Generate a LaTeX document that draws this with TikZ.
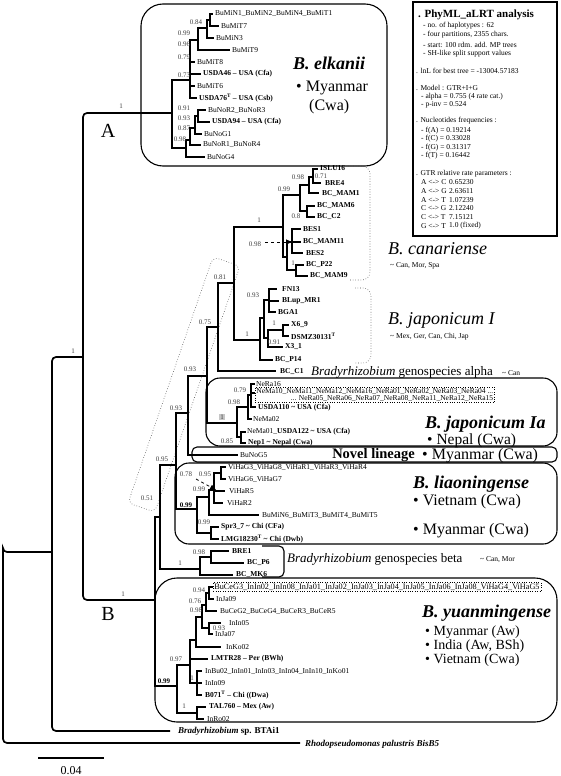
\documentclass[tikz,border=0pt]{standalone}
\usepackage{fontspec}
\setmainfont{Liberation Serif}
\usetikzlibrary{arrows.meta}
\newcommand\myfs[1]{\fontsize{#1}{#1}\selectfont}
\newcommand\tld{\textasciitilde}
\begin{document}
\begin{tikzpicture}[x=1pt,y=-1pt,
  br/.style={line width=1.9pt,line cap=rect},
  obr/.style={line width=1.7pt,rounded corners=4pt},
  tiplab/.style={anchor=west,inner sep=0pt,font=\myfs{7.5}},
  tipb/.style={anchor=west,inner sep=0pt,font=\myfs{7.5}\bfseries},
  sup/.style={inner sep=0pt,font=\myfs{7},text=black!75},
  cladebox/.style={draw,line width=1.1pt},
  dotbr/.style={draw=black!70,dotted,line width=0.6pt,rounded corners=8pt},
  big/.style={anchor=west,inner sep=0pt,font=\myfs{18}\bfseries\itshape},
  bigi/.style={anchor=west,inner sep=0pt,font=\myfs{18}\itshape},
  loc/.style={anchor=west,inner sep=0pt,font=\myfs{16}},
  leg/.style={anchor=west,inner sep=0pt,font=\myfs{7.5}},
  small/.style={anchor=west,inner sep=0pt,font=\myfs{7.5}}]
\useasboundingbox (0,0) rectangle (560,776);

% ---------- boxes ----------
\draw[cladebox,rounded corners=22pt] (141,4) rectangle (387,166);
\draw[line width=1.1pt] (413,2) rectangle (557,236);
\draw[cladebox,rounded corners=14pt] (206,378) rectangle (557,446);
\draw[cladebox,rounded corners=5pt] (192,447) rectangle (557,462);
\draw[cladebox,rounded corners=14pt] (175,463) rectangle (557,544);
\draw[cladebox,rounded corners=5pt] (262,546) -- (284,546) -- (284,577) -- (262,577);
\draw[cladebox,rounded corners=22pt] (155,578) rectangle (557,722);
\draw[dotbr] (348,166) -- (370,166) -- (370,280) -- (350,280);
\draw[dotbr] (355,288) -- (371,288) -- (371,363) -- (355,363);
\draw[dotbr,rounded corners=6pt] (213,257) -- (240,266) -- (155,512) -- (128,503) -- cycle;

% ---------- coordinates ----------
\coordinate (root) at (3,552);
\coordinate (n52) at (52,552);
\coordinate (n83) at (83,357);
\coordinate (tRho) at (300,743);
\coordinate (tBTA) at (170,731);
\coordinate (nA) at (172,113);
\coordinate (nB) at (155,600);
% elkanii
\coordinate (e2) at (190,80);
\coordinate (e3) at (198,40);
\coordinate (e4) at (207,28);
\coordinate (e5) at (210,20);
\coordinate (tMiN1) at (212,14);
\coordinate (tMiT7) at (218,26);
\coordinate (tMiN3) at (213,38);
\coordinate (tMiT9) at (229,50);
\coordinate (tMiT8) at (194,62);
\coordinate (tUS46) at (200,74);
\coordinate (tMiT6) at (194,86);
\coordinate (tUS76) at (196,98);
\coordinate (p1) at (186,148);
\coordinate (p2) at (190,140);
\coordinate (p3) at (195,128);
\coordinate (p4) at (198,116);
\coordinate (tNoR2) at (205,110);
\coordinate (tUS94) at (209,122);
\coordinate (tNoG1) at (201,134);
\coordinate (tNoR1) at (200,145);
\coordinate (tNoG4) at (204,157);
% big clade
\coordinate (k5) at (160,517);
\coordinate (k4) at (176,465);
\coordinate (k3) at (188,413);
\coordinate (k2) at (207,376);
\coordinate (k1) at (218,327);
\coordinate (j0) at (234,283);
\coordinate (tC1) at (275,371);
% canariense
\coordinate (c0) at (283,227);
\coordinate (q2) at (300,195);
\coordinate (q1) at (309,185);
\coordinate (q0) at (313,177);
\coordinate (q3) at (307,211);
\coordinate (tISLU) at (317,169);
\coordinate (tBRE4) at (320,183);
\coordinate (tMAM1) at (318,193);
\coordinate (tMAM6) at (314,206);
\coordinate (tC2) at (314,217);
\coordinate (r0) at (287,257);
\coordinate (r1) at (292,242);
\coordinate (r2) at (296,270);
\coordinate (tBES1) at (300,229);
\coordinate (tMAM11) at (300,242);
\coordinate (tBES2) at (302,253);
\coordinate (tP22) at (303,265);
\coordinate (tMAM9) at (307,276);
% japonicum I
\coordinate (j1) at (260,340);
\coordinate (j2) at (264,318);
\coordinate (j3) at (269,300);
\coordinate (j4) at (268,338);
\coordinate (j5) at (283,330);
\coordinate (tFN13) at (276,289);
\coordinate (tBLup) at (278,301);
\coordinate (tBGA1) at (275,312);
\coordinate (tX69) at (288,325);
\coordinate (tDSMZ) at (288,336);
\coordinate (tX31) at (282,347);
\coordinate (tP14) at (272,360);
% japonicum Ia
\coordinate (ia0) at (237,423);
\coordinate (ia1) at (248,407);
\coordinate (ia2) at (251,395);
\coordinate (ia3) at (241,437);
\coordinate (tNeRa16) at (254,384);
\coordinate (tNeBox) at (254,393);
\coordinate (tUS110) at (255,407);
\coordinate (tNeMa02) at (251,419);
\coordinate (tNeMa01) at (245,432);
\coordinate (tNep1) at (245,443);
\coordinate (tNoG5) at (237,455);
% liaoningense
\coordinate (l0) at (197,509);
\coordinate (l1) at (209,497);
\coordinate (l2) at (214,490);
\coordinate (l3) at (221,473);
\coordinate (l5) at (211,533);
\coordinate (tViG3) at (225,467);
\coordinate (tViG6) at (225,479);
\coordinate (tViR5) at (224,491);
\coordinate (tViR2) at (222,503);
\coordinate (tMiN6) at (258,515);
\coordinate (tSpr) at (218,527);
\coordinate (tLMG) at (218,539);
% beta
\coordinate (be0) at (200,569);
\coordinate (be1) at (211,557);
\coordinate (tBRE1) at (228,551);
\coordinate (tP6) at (243,563);
\coordinate (tMK6) at (232,575);
% yuanmingense
\coordinate (y0) at (177,686);
\coordinate (y1) at (190,665);
\coordinate (y3) at (196,640);
\coordinate (y4) at (202,617);
\coordinate (y5) at (206,605);
\coordinate (y5a) at (209,593);
\coordinate (y4b) at (209,628);
\coordinate (y6) at (197,683);
\coordinate (y7) at (197,713);
\coordinate (tBuCeG3) at (212,587);
\coordinate (tInJa09) at (213,599);
\coordinate (tBuCeG2) at (216,611);
\coordinate (tInIn05) at (220,623);
\coordinate (tInJa07) at (212,634);
\coordinate (tInKo02) at (220,647);
\coordinate (tLMTR) at (207,659);
\coordinate (tInBu02) at (201,671);
\coordinate (tInIn09) at (201,683);
\coordinate (tB071) at (201,695);
\coordinate (tTAL) at (205,707);
\coordinate (tInRo02) at (203,719);

% ---------- branches ----------
\foreach \a/\b in {root/n52,root/tRho,n52/n83,n52/tBTA,n83/nA,n83/nB}
  \draw[obr] (\a) |- (\b);
\foreach \a/\b in {nA/e2,nA/p1,e2/e3,e2/tMiT8,e2/tUS46,e2/tMiT6,e2/tUS76,
  e3/e4,e3/tMiT9,e4/e5,e4/tMiN3,e5/tMiN1,e5/tMiT7,
  p1/p2,p1/tNoG4,p2/p3,p2/tNoR1,p3/p4,p3/tNoG1,p4/tNoR2,p4/tUS94,
  nB/k5,nB/y0,k5/k4,k5/be0,k4/k3,k4/l0,k3/k2,k3/tNoG5,k2/k1,k2/ia0,
  k1/j0,k1/tC1,j0/c0,j0/j1,
  c0/q2,c0/r0,q2/q1,q2/q3,q1/q0,q1/tMAM1,q0/tISLU,q0/tBRE4,q3/tMAM6,q3/tC2,
  r0/r1,r0/r2,r1/tBES1,r1/tMAM11,r1/tBES2,r2/tP22,r2/tMAM9,
  j1/j2,j1/tP14,j2/j3,j2/j4,j3/tFN13,j3/tBLup,j3/tBGA1,j4/j5,j4/tX31,j5/tX69,j5/tDSMZ,
  ia0/ia1,ia0/ia3,ia1/ia2,ia1/tNeMa02,ia2/tNeRa16,ia2/tNeBox,ia2/tUS110,ia3/tNeMa01,ia3/tNep1,
  l0/l1,l0/l5,l1/l2,l1/tMiN6,l2/l3,l2/tViR5,l2/tViR2,l3/tViG3,l3/tViG6,l5/tSpr,l5/tLMG,
  be0/be1,be0/tMK6,be1/tBRE1,be1/tP6,
  y0/y1,y0/y7,y1/y3,y1/tLMTR,y1/y6,y3/y4,y3/tInKo02,y4/y5,y4/y4b,y5/y5a,y5/tBuCeG2,
  y5a/tBuCeG3,y5a/tInJa09,y4b/tInIn05,y4b/tInJa07,y6/tInBu02,y6/tInIn09,y6/tB071,
  y7/tTAL,y7/tInRo02}
  \draw[br] (\a) |- (\b);

% dashed pointers
\coordinate (dA0) at (265,242);
\coordinate (dA1) at (292,242);
\draw[dashed,line width=0.8pt,-{Triangle[length=6pt,width=5pt]}] (dA0) -- (dA1);
\coordinate (dB0) at (196,479);
\coordinate (dB1) at (216,490);
\draw[dashed,line width=0.8pt,-{Triangle[length=6pt,width=5pt]}] (dB0) -- (dB1);

% ---------- tip labels ----------
\node[tiplab] (lMiN1) at (215,14) {BuMiN1\_BuMiN2\_BuMiN4\_BuMiT1};
\node[tiplab] (lMiT7) at (221,26) {BuMiT7};
\node[tiplab] (lMiN3) at (216,38) {BuMiN3};
\node[tiplab] (lMiT9) at (232,50) {BuMiT9};
\node[tiplab] (lMiT8) at (197,62) {BuMiT8};
\node[tipb] (lUS46) at (203,74) {USDA46 -- USA (Cfa)};
\node[tiplab] (lMiT6) at (197,86) {BuMiT6};
\node[tipb] (lUS76) at (199,98) {USDA76\textsuperscript{T} -- USA (Csb)};
\node[tiplab] (lNoR2) at (208,110) {BuNoR2\_BuNoR3};
\node[tipb] (lUS94) at (212,122) {USDA94 -- USA (Cfa)};
\node[tiplab] (lNoG1) at (204,134) {BuNoG1};
\node[tiplab] (lNoR1) at (203,145) {BuNoR1\_BuNoR4};
\node[tiplab] (lNoG4) at (207,157) {BuNoG4};

\node[tipb] (lISLU) at (320,168.5) {ISLU16};
\node[tipb] (lBRE4) at (325,183) {BRE4};
\node[tipb] (lMAM1) at (322,194) {BC\_MAM1};
\node[tipb] (lMAM6) at (317,206) {BC\_MAM6};
\node[tipb] (lC2) at (317,217) {BC\_C2};
\node[tipb] (lBES1) at (303,229) {BES1};
\node[tipb] (lMAM11) at (303,242) {BC\_MAM11};
\node[tipb] (lBES2) at (306,253) {BES2};
\node[tipb] (lP22) at (306,265) {BC\_P22};
\node[tipb] (lMAM9) at (310,276) {BC\_MAM9};

\node[tipb] (lFN13) at (282,289) {FN13};
\node[tipb] (lBLup) at (282,301) {BLup\_MR1};
\node[tipb] (lBGA1) at (278,312) {BGA1};
\node[tipb] (lX69) at (291,325) {X6\_9};
\node[tipb] (lDSMZ) at (291,336) {DSMZ30131\textsuperscript{T}};
\node[tipb] (lX31) at (285,347) {X3\_1};
\node[tipb] (lP14) at (275,360) {BC\_P14};
\node[tipb] (lC1) at (280,372) {BC\_C1};

\node[tiplab] (lNeRa16) at (256,384) {NeRa16};
\node[draw,dotted,anchor=north west,inner sep=1.2pt,align=right,font=\myfs{7.5}] (lNeBox) at (255,387)
  {NeMa10\_NeMa11\_NeMa12\_NeMa16\_NeRa01\_NeRa02\_NeRa03\_NeRa04 ...\\[-0.5pt]
   ... NeRa05\_NeRa06\_NeRa07\_NeRa08\_NeRa11\_NeRa12\_NeRa15};
\node[tipb] (lUS110) at (258,407.5) {USDA110 \tld{} USA (Cfa)};
\node[tiplab] (lNeMa02) at (253,419) {NeMa02};
\node[tiplab] (lNeMa01) at (247,432) {NeMa01\_{\bfseries USDA122 \tld{} USA (Cfa)}};
\node[tipb] (lNep1) at (248,443) {Nep1 \tld{} Nepal (Cwa)};
\node[tiplab] (lNoG5) at (240,455) {BuNoG5};

\node[tiplab] (lViG3) at (228,467) {ViHaG3\_ViHaG8\_ViHaR1\_ViHaR3\_ViHaR4};
\node[tiplab] (lViG6) at (228,479) {ViHaG6\_ViHaG7};
\node[tiplab] (lViR5) at (229,491) {ViHaR5};
\node[tiplab] (lViR2) at (227,503) {ViHaR2};
\node[tiplab] (lMiN6) at (262,515) {BuMiN6\_BuMiT3\_BuMiT4\_BuMiT5};
\node[tipb] (lSpr) at (221,527) {Spr3\_7 \tld{} Chi (CFa)};
\node[tipb] (lLMG) at (221,539) {LMG18230\textsuperscript{T} \tld{} Chi (Dwb)};

\node[tipb] (lBRE1) at (232,551) {BRE1};
\node[tipb] (lP6) at (247,563) {BC\_P6};
\node[tipb] (lMK6) at (236,575) {BC\_MK6};

\node[draw,dotted,anchor=west,inner sep=1.2pt,font=\myfs{8.2}] (lBuCeG3) at (213,587)
  {BuCeG3\_InIn02\_InIn08\_InJa01\_InJa02\_InJa03\_InJa04\_InJa05\_InJa06\_InJa08\_ViHaG4\_ViHaG5};
\node[tiplab] (lInJa09) at (216,599) {InJa09};
\node[tiplab] (lBuCeG2) at (220,611) {BuCeG2\_BuCeG4\_BuCeR3\_BuCeR5};
\node[tiplab] (lInIn05) at (229,623) {InIn05};
\node[tiplab] (lInJa07) at (215,634) {InJa07};
\node[tiplab] (lInKo02) at (226,647) {InKo02};
\node[tipb] (lLMTR) at (211,659) {LMTR28 -- Per (BWh)};
\node[tiplab] (lInBu02) at (205,671) {InBu02\_InIn01\_InIn03\_InIn04\_InIn10\_InKo01};
\node[tiplab] (lInIn09) at (205,683) {InIn09};
\node[tipb] (lB071) at (205,695) {B071\textsuperscript{T} -- Chi ((Dwa)};
\node[tipb] (lTAL) at (209,707) {TAL760 -- Mex (Aw)};
\node[tiplab] (lInRo02) at (207,719) {InRo02};

\node[anchor=west,inner sep=0pt,font=\myfs{9}\bfseries] (lBTA) at (178,731) {\itshape Bradyrhizobium\upshape{} sp. BTAi1};
\node[anchor=west,inner sep=0pt,font=\myfs{9}\bfseries\itshape] (lRho) at (305,744) {Rhodopseudomonas palustris BisB5};

% ---------- support values ----------
\node[sup] (s1) at (73,351) {1};
\node[sup] (s2) at (121,106) {1};
\node[sup] (s3) at (123,594) {1};
\node[sup] (s4) at (196,22) {0.84};
\node[sup] (s5) at (184,33) {0.99};
\node[sup] (s6) at (184,44) {0.96};
\node[sup] (s7) at (184,57) {0.79};
\node[sup] (s8) at (184,75) {0.73};
\node[sup] (s9) at (184,108) {0.91};
\node[sup] (s10) at (184,118) {0.93};
\node[sup] (s11) at (184,128) {0.87};
\node[sup] (s12) at (180,139) {0.98};
\node[sup] (s13) at (259,220) {1};
\node[sup] (s14) at (284,189) {0.99};
\node[sup] (s15) at (298,177) {0.98};
\node[sup] (s16) at (321,176) {0.71};
\node[sup] (s17) at (296,216) {0.8};
\node[sup] (s18) at (255,244) {0.98};
\node[sup] (s19) at (293,263) {1};
\node[sup] (s20) at (247,334) {1};
\node[sup] (s21) at (253,295) {0.93};
\node[sup] (s22) at (274,323) {1};
\node[sup] (s23) at (274,342) {0.91};
\node[sup] (s24) at (220,277) {0.81};
\node[sup] (s25) at (205,322) {0.75};
\node[sup] (s26) at (190,369) {0.93};
\node[sup] (s27) at (176,408) {0.93};
\node[sup] (s28) at (162,459) {0.95};
\node[sup] (s29) at (147,498) {0.51};
\node[sup] (s30) at (240,390) {0.79};
\node[sup] (s31) at (234,402) {0.98};
\node[sup,fill=gray!45,inner sep=0.8pt] (s32) at (222,417) {1};
\node[sup] (s33) at (227,441) {0.85};
\node[sup] (s34) at (186,474) {0.78};
\node[sup] (s35) at (205,474) {0.95};
\node[sup] (s36) at (199,489) {0.99};
\node[sup,font=\myfs{7}\bfseries,text=black] (s37) at (186,505) {0.99};
\node[sup] (s38) at (204,522) {0.99};
\node[sup] (s39) at (199,552) {0.98};
\node[sup] (s40) at (180,563) {1};
\node[sup] (s41) at (199,590) {0.94};
\node[sup] (s42) at (195,601) {0.76};
\node[sup] (s43) at (196,610) {0.98};
\node[sup] (s44) at (219,628) {0.93};
\node[sup] (s45) at (176,659) {0.97};
\node[sup] (s46) at (192,678) {1};
\node[sup,font=\myfs{7}\bfseries,text=black] (s47) at (164,681) {0.99};
\node[sup] (s48) at (184,706) {1};

% ---------- clade names ----------
\node[anchor=center,inner sep=0pt,font=\myfs{20}] (cA) at (108,131) {A};
\node[anchor=center,inner sep=0pt,font=\myfs{20}] (cB) at (108,614) {B};
\node[big] (nElk) at (293,63) {B. elkanii};
\node[loc] (nElk1) at (296,88) {\textbullet{} Myanmar};
\node[loc] (nElk2) at (309,107) {(Cwa)};
\node[bigi] (nCan) at (388,249) {B. canariense};
\node[small] (nCan1) at (390,266) {\tld{} Can, Mor, Spa};
\node[bigi] (nJap) at (388,320) {B. japonicum I};
\node[small] (nJap1) at (390,337) {\tld{} Mex, Ger, Can, Chi, Jap};
\node[anchor=west,inner sep=0pt,font=\myfs{13}] (nAlpha) at (311,372) {\itshape Bradyrhizobium\upshape{} genospecies alpha};
\node[small] (nAlpha1) at (502,373) {\tld{} Can};
\node[big] (nJIa) at (425,424) {B. japonicum Ia};
\node[anchor=west,inner sep=0pt,font=\myfs{15.5}] (nJIa1) at (427,440.5) {\textbullet{} Nepal (Cwa)};
\node[anchor=east,inner sep=0pt,font=\myfs{14.5}\bfseries] (nNov) at (415,455.5) {Novel lineage};
\node[anchor=west,inner sep=0pt,font=\myfs{16}] (nNov1) at (422,455.5) {\textbullet{} Myanmar (Cwa)};
\node[big] (nLia) at (413,484) {B. liaoningense};
\node[loc] (nLia1) at (413,502) {\textbullet{} Vietnam (Cwa)};
\node[loc] (nLia2) at (413,531) {\textbullet{} Myanmar (Cwa)};
\node[anchor=west,inner sep=0pt,font=\myfs{13}] (nBeta) at (287,559) {\itshape Bradyrhizobium\upshape{} genospecies beta};
\node[small] (nBeta1) at (480,560) {\tld{} Can, Mor};
\node[big] (nYua) at (422,613) {B. yuanmingense};
\node[anchor=west,inner sep=0pt,font=\myfs{14}] (nYua1) at (425,632) {\textbullet{} Myanmar (Aw)};
\node[anchor=west,inner sep=0pt,font=\myfs{14}] (nYua2) at (425,646) {\textbullet{} India (Aw, BSh)};
\node[anchor=west,inner sep=0pt,font=\myfs{14}] (nYua3) at (425,660) {\textbullet{} Vietnam (Cwa)};

% ---------- legend ----------
\node[anchor=west,inner sep=0pt,font=\myfs{11}\bfseries] (g0) at (418,15) {. PhyML\_aLRT analysis};
\node[leg] (g1) at (423,26) {- no. of haplotypes : 62};
\node[leg] (g2) at (423,35) {- four partitions, 2355 chars.};
\node[leg] (g3) at (423,44.5) {- start: 100 rdm. add. MP trees};
\node[leg] (g4) at (423,54) {- SH-like split support values};
\node[leg] (g5) at (416,71) {. lnL for best tree = -13004.57183};
\node[leg] (g6) at (416,87.5) {. Model : GTR+I+G};
\node[leg] (g7) at (421,96.5) {- alpha = 0.755 (4 rate cat.)};
\node[leg] (g8) at (421,105) {- p-inv = 0.524};
\node[leg] (g9) at (416,121) {. Nucleotides frequencies :};
\node[leg] (g10) at (421,130.5) {- f(A) = 0.19214};
\node[leg] (g11) at (421,139) {- f(C) = 0.33028};
\node[leg] (g12) at (421,147.5) {- f(G) = 0.31317};
\node[leg] (g13) at (421,156) {- f(T) = 0.16442};
\node[leg] (g14) at (416,174) {. GTR relative rate parameters :};
\node[leg] (g15) at (421,182.5) {A <-> C};
\node[leg] (g16) at (421,191) {A <-> G};
\node[leg] (g17) at (421,200) {A <-> T};
\node[leg] (g18) at (421,208.5) {C <-> G};
\node[leg] (g19) at (421,217) {C <-> T};
\node[leg] (g20) at (421,226) {G <-> T};
\node[leg] (v15) at (449,182.5) {0.65230};
\node[leg] (v16) at (449,191) {2.63611};
\node[leg] (v17) at (449,200) {1.07239};
\node[leg] (v18) at (449,208.5) {2.12240};
\node[leg] (v19) at (449,217) {7.15121};
\node[leg] (v20) at (449,226) {1.0 (fixed)};

% ---------- scale bar ----------
\coordinate (sb0) at (38,758);
\coordinate (sb1) at (104,758);
\draw[line width=1.1pt] (sb0) -- (sb1);
\node[inner sep=0pt,font=\myfs{12}] (sbl) at (71,771) {0.04};
\end{tikzpicture}
\end{document}
